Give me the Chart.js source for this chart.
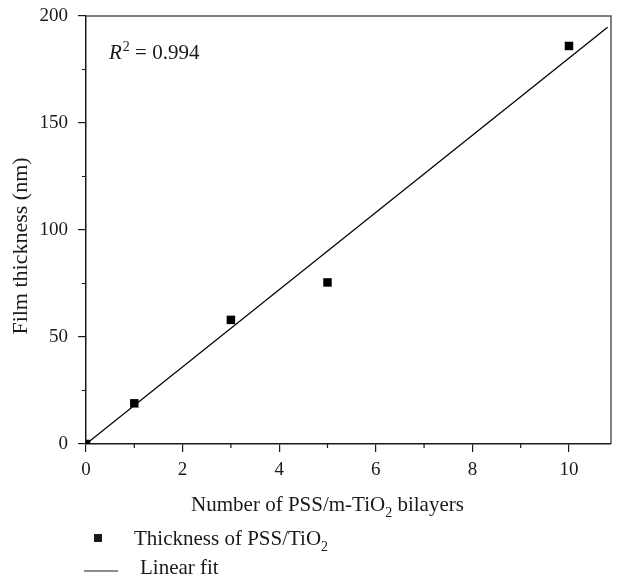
<!DOCTYPE html>
<html>
<head>
<meta charset="utf-8">
<script src="https://cdn.jsdelivr.net/npm/chart.js@4.4.1/dist/chart.umd.min.js"></script>
<style>
html,body{margin:0;padding:0;background:#fff;}
#wrap{width:617px;height:585px;position:relative;}
</style>
</head>
<body>
<div id="wrap"><canvas id="c" width="617" height="585"></canvas></div>
<script>
// ---- data ----
const bilayers = [0, 1, 3, 5, 10];
const thickness = [0, 19, 58, 75.5, 186];
const fitX = [0, 10.8];
const fitY = [0, 194.7];
const xTicks = [0, 2, 4, 6, 8, 10];
const yTicks = [0, 50, 100, 150, 200];
const seriesNames = ['Thickness of PSS/TiO\u2082', 'Linear fit'];
const rSquared = '0.994';

const FONT = "'Liberation Serif', 'DejaVu Serif', serif";
const INK = '#1a1a1a';

function drawRich(ctx, parts, x, y, size, align) {
  const main = size + "px " + FONT, small = Math.round(size * 0.68) + "px " + FONT;
  let total = 0;
  for (const p of parts) { ctx.font = p[1] ? small : main; total += ctx.measureText(p[0]).width; }
  let cx = align === 'center' ? x - total / 2 : x;
  for (const p of parts) {
    ctx.font = p[1] ? small : main;
    ctx.fillText(p[0], cx, p[1] ? y + size * 0.28 : y);
    cx += ctx.measureText(p[0]).width;
  }
}

const noPad = () => ({left: 0, top: 0, right: 0, bottom: 0});

const frameAndExtras = {
  id: 'frameAndExtras',
  afterDraw(chart) {
    const ctx = chart.ctx;
    const a = chart.chartArea;
    const xs = chart.scales.x, ys = chart.scales.y;
    ctx.save();
    // top/right frame
    ctx.strokeStyle = '#555';
    ctx.lineWidth = 1.5;
    ctx.beginPath();
    ctx.moveTo(a.left, a.top);
    ctx.lineTo(a.right, a.top);
    ctx.lineTo(a.right, a.bottom);
    ctx.stroke();
    // minor ticks
    ctx.strokeStyle = INK;
    ctx.lineWidth = 1.2;
    ctx.beginPath();
    for (let v = 1; v < 11; v += 2) {
      const px = xs.getPixelForValue(v);
      ctx.moveTo(px, a.bottom); ctx.lineTo(px, a.bottom + 4);
    }
    for (let v = 25; v < 200; v += 50) {
      const py = ys.getPixelForValue(v);
      ctx.moveTo(a.left, py); ctx.lineTo(a.left - 4, py);
    }
    ctx.stroke();
    ctx.fillStyle = INK;
    // R^2 annotation
    let x = a.left + 23, y = a.top + 43;
    ctx.textBaseline = 'alphabetic';
    ctx.textAlign = 'left';
    ctx.font = "italic 21px " + FONT;
    ctx.fillText('R', x, y); x += ctx.measureText('R').width + 1;
    ctx.font = "14px " + FONT;
    ctx.fillText('2', x, y - 8); x += ctx.measureText('2').width;
    ctx.font = "21px " + FONT;
    ctx.fillText(' = ' + rSquared, x, y);
    // x axis title
    drawRich(ctx, [['Number of PSS/m-TiO', false], ['2', true], [' bilayers', false]],
      xs.getPixelForValue(5), a.bottom + 67, 21, 'center');
    // y axis title
    ctx.save();
    ctx.translate(27, (a.top + a.bottom) / 2 + 16);
    ctx.rotate(-Math.PI / 2);
    ctx.textAlign = 'center';
    ctx.font = "22px " + FONT;
    ctx.fillText('Film thickness (nm)', 0, 0);
    ctx.restore();
    // legend
    const lx = a.left + 12;
    let ly = a.bottom + 94;
    ctx.fillRect(lx - 4, ly - 4, 8, 8);
    drawRich(ctx, [['Thickness of PSS/TiO', false], ['2', true]], a.left + 48, ly + 7, 21, 'left');
    ly += 33;
    ctx.beginPath();
    ctx.lineWidth = 1;
    ctx.moveTo(a.left - 2, ly); ctx.lineTo(a.left + 32, ly);
    ctx.stroke();
    drawRich(ctx, [['Linear fit', false]], a.left + 54, ly + 3, 21, 'left');
    ctx.restore();
  }
};

new Chart(document.getElementById('c'), {
  type: 'scatter',
  data: {
    datasets: [
      {
        label: seriesNames[0],
        data: bilayers.map((b, i) => ({x: b, y: thickness[i]})),
        pointStyle: 'rect',
        pointRadius: 6,
        pointHoverRadius: 6,
        backgroundColor: '#000',
        borderColor: '#000',
        borderWidth: 0,
        order: 1
      },
      {
        label: seriesNames[1],
        data: fitX.map((b, i) => ({x: b, y: fitY[i]})),
        showLine: true,
        pointRadius: 0,
        borderColor: '#000',
        borderWidth: 1.3,
        order: 2
      }
    ]
  },
  options: {
    responsive: false,
    animation: false,
    layout: {padding: {top: 16, right: 2, left: 0, bottom: 0}},
    plugins: {legend: {display: false}, tooltip: {enabled: false}},
    scales: {
      x: {
        type: 'linear', min: 0, max: 10.87,
        afterBuildTicks: s => { s.ticks = xTicks.map(v => ({value: v})); },
        afterFit: s => { s.height = 141; s.paddingLeft = 0; s.paddingRight = 0; s.getPadding = noPad; },
        ticks: {font: {family: FONT, size: 19}, color: INK, padding: 7, maxRotation: 0},
        grid: {drawOnChartArea: false, drawTicks: true, tickLength: 8, color: INK, lineWidth: 1.2},
        border: {display: true, color: INK, width: 1.5}
      },
      y: {
        type: 'linear', min: 0, max: 200,
        afterBuildTicks: s => { s.ticks = yTicks.map(v => ({value: v})); },
        afterFit: s => { s.width = 86; s.paddingTop = 0; s.paddingBottom = 0; s.getPadding = noPad; },
        ticks: {font: {family: FONT, size: 19}, color: INK, padding: 10},
        grid: {drawOnChartArea: false, drawTicks: true, tickLength: 8, color: INK, lineWidth: 1.2},
        border: {display: true, color: INK, width: 1.5}
      }
    }
  },
  plugins: [frameAndExtras]
});
</script>
</body>
</html>
